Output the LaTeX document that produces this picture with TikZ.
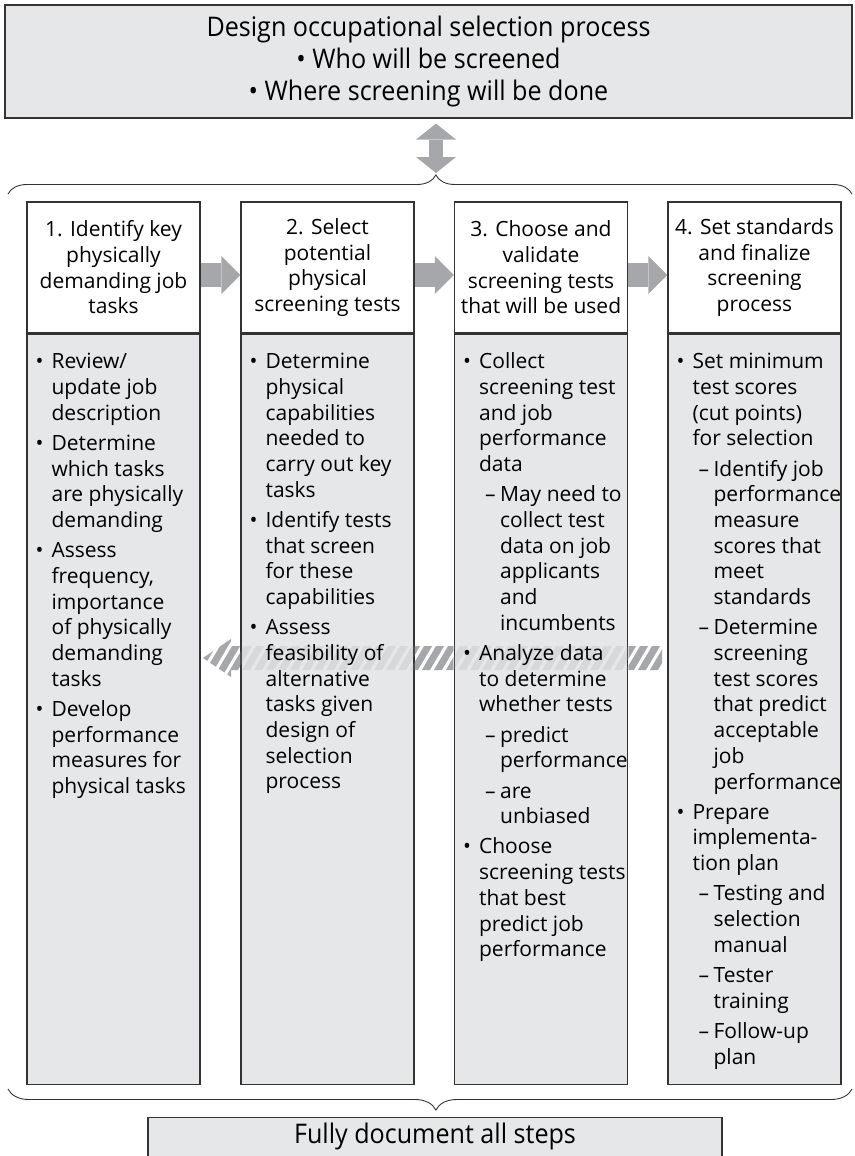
\documentclass[tikz,border=0pt]{standalone}
\usepackage{fontspec}
\setmainfont{Open Sans}
\newfontfamily\titlefont[FakeStretch=0.93]{Open Sans}
\usetikzlibrary{arrows.meta,decorations.pathreplacing,calc}

\definecolor{boxfill}{HTML}{E6E7E8}
\definecolor{boxline}{HTML}{333333}
\definecolor{arrowgray}{HTML}{A5A7AA}

% list helpers: bullet, bullet indent, sub-dash, sub-dash indent
\newcommand\bl{\makebox[16pt][l]{\textbullet}}
\newcommand\ti{\hspace*{16pt}}
\newcommand\sd{\hspace*{22pt}\makebox[15pt][l]{–}}
\newcommand\si{\hspace*{37pt}}
\newcommand\bodyfont{\fontsize{21}{25.7}\selectfont}
\newcommand\bigfont{\titlefont\fontsize{27}{32}\selectfont}

\tikzset{
  panel/.style={draw=boxline, line width=1.2pt, minimum width=173pt, inner sep=0pt},
  headbox/.style={panel, fill=white, minimum height=131pt, align=center, font=\bodyfont},
  bodybox/.style={panel, fill=boxfill, minimum height=750pt, anchor=north},
  bodytext/.style={align=left, font=\bodyfont, inner sep=0pt, anchor=north west},
  bigbox/.style={draw=boxline, line width=1.2pt, fill=boxfill, font=\bigfont, inner sep=0pt},
  flow/.style={arrowgray, line width=24pt, -{Triangle[length=19pt,width=38pt,line width=0pt]}},
  updown/.style={arrowgray, line width=14pt,
    {Triangle[length=16pt,width=40pt,line width=0pt]}-{Triangle[length=16pt,width=40pt,line width=0pt]}},
  bracestyle/.style={draw=boxline, line width=0.9pt, decorate},
}

\begin{document}
\begin{tikzpicture}[x=1pt,y=-1pt]
\useasboundingbox (0,0) rectangle (854,1156);

% top: design step
\node[bigbox, align=center, minimum width=847pt, minimum height=113pt] (top) at (428.5,61.5)
  {Design occupational selection process\\\textbullet{} Who will be screened\\\textbullet{} Where screening will be done};

% brace gathering the four steps
\coordinate (tbL) at (8,194);
\coordinate (tbR) at (852,194);
\coordinate (tbTip) at (436,175);
\draw[bracestyle, decoration={brace, amplitude=19pt, aspect=0.507}] (tbL) -- (tbR);
\draw[updown] ($(top.south -| tbTip)+(0,5)$) -- ($(tbTip)+(0,-2)$);

% step headers
\node[headbox] (h1) at (113.5,267.5) {1. Identify key\\physically\\demanding job\\tasks};
\node[headbox] (h2) at (327.5,267.5) {2. Select\\potential\\physical\\screening tests};
\node[headbox] (h3) at (541,267.5) {3. Choose and\\validate\\screening tests\\that will be used};
\node[headbox] (h4) at (754.5,267.5) {4. Set standards\\and finalize\\screening\\process};

% step bodies
\node[bodybox] (b1) at (h1.south) {};
\node[bodybox] (b2) at (h2.south) {};
\node[bodybox] (b3) at (h3.south) {};
\node[bodybox] (b4) at (h4.south) {};

% forward arrows between headers
\draw[flow] ([yshift=-7.5pt]h1.east) -- ([yshift=-7.5pt]h2.west);
\draw[flow] ([yshift=-7.5pt]h2.east) -- ([yshift=-7.5pt]h3.west);
\draw[flow] ([yshift=-7.5pt]h3.east) -- ([yshift=-7.5pt]h4.west);

% hatched feedback arrow running back from step 3 to step 1
\coordinate (backS) at (662,658);
\coordinate (backE) at (203,658);
\def\backshape{(backS) ++(0,-12) -- ($(backE)+(28,-12)$) -- ($(backE)+(28,-19)$) -- (backE)
  -- ($(backE)+(28,19)$) -- ($(backE)+(28,12)$) -- ($(backS)+(0,12)$) -- cycle}
\def\stripes{\foreach \k in {0,...,42} {\fill[arrowgray] ({176+\k*12},680) -- ++(8,0) -- ++(26,-44) -- ++(-8,0) -- cycle;}}
\begin{scope}
  \clip \backshape;
  \begin{scope}[opacity=0.22]
    \stripes
  \end{scope}
  \clip ($(b1.east)+(0.6,-400)$) rectangle ($(b2.west)+(-0.6,400)$)
        ($(b2.east)+(0.6,-400)$) rectangle ($(b3.west)+(-0.6,400)$)
        ($(b3.east)+(0.6,-400)$) rectangle ($(b4.west)+(-0.6,400)$);
  \stripes
\end{scope}

% body texts
\node[bodytext] (t1) at ($(b1.north west)+(9,17)$) {%
\strut\bl Review/\\
\ti update job\\
\ti description\\[4.5pt]
\bl Determine\\
\ti which tasks\\
\ti are physically\\
\ti demanding\\[4.5pt]
\bl Assess\\
\ti frequency,\\
\ti importance\\
\ti of physically\\
\ti demanding\\
\ti tasks\\[4.5pt]
\bl Develop\\
\ti performance\\
\ti measures for\\
\ti physical tasks};

\node[bodytext] (t2) at ($(b2.north west)+(9,17)$) {%
\strut\bl Determine\\
\ti physical\\
\ti capabilities\\
\ti needed to\\
\ti carry out key\\
\ti tasks\\[4.5pt]
\bl Identify tests\\
\ti that screen\\
\ti for these\\
\ti capabilities\\[4.5pt]
\bl Assess\\
\ti feasibility of\\
\ti alternative\\
\ti tasks given\\
\ti design of\\
\ti selection\\
\ti process};

\node[bodytext] (t3) at ($(b3.north west)+(9,17)$) {%
\strut\bl Collect\\
\ti screening test\\
\ti and job\\
\ti performance\\
\ti data\\[4.5pt]
\sd May need to\\
\si collect test\\
\si data on job\\
\si applicants\\
\si and\\
\si incumbents\\[4.5pt]
\bl Analyze data\\
\ti to determine\\
\ti whether tests\\[4.5pt]
\sd predict\\
\si performance\\[4.5pt]
\sd are\\
\si unbiased\\[4.5pt]
\bl Choose\\
\ti screening tests\\
\ti that best\\
\ti predict job\\
\ti performance};

\node[bodytext] (t4) at ($(b4.north west)+(9,17)$) {%
\strut\bl Set minimum\\
\ti test scores\\
\ti (cut points)\\
\ti for selection\\[4.5pt]
\sd Identify job\\
\si performance\\
\si measure\\
\si scores that\\
\si meet\\
\si standards\\[4.5pt]
\sd Determine\\
\si screening\\
\si test scores\\
\si that predict\\
\si acceptable\\
\si job\\
\si performance\\[4.5pt]
\bl Prepare\\
\ti implementa-\\
\ti tion plan\\[4.5pt]
\sd Testing and\\
\si selection\\
\si manual\\[4.5pt]
\sd Tester\\
\si training\\[4.5pt]
\sd Follow-up\\
\si plan};

% closing brace and documentation step
\coordinate (bbR) at (852,1089);
\coordinate (bbL) at (8,1089);
\draw[bracestyle, decoration={brace, amplitude=21pt, aspect=0.493}] (bbR) -- (bbL);
\node[bigbox, minimum width=574pt, text height=26pt, text depth=34pt, anchor=north] (bottom) at (435,1117)
  {Fully document all steps};
\end{tikzpicture}
\end{document}
